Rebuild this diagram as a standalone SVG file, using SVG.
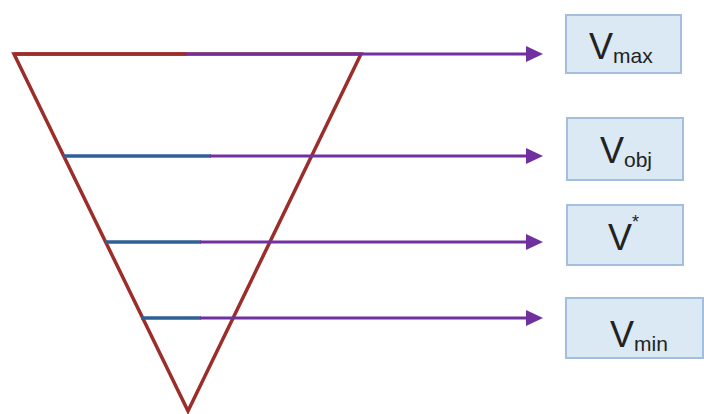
<svg xmlns="http://www.w3.org/2000/svg" width="704" height="414" viewBox="0 0 704 414">
<defs>
<marker id="ah" viewBox="0 0 17 16" refX="0" refY="8" markerWidth="17" markerHeight="16" markerUnits="userSpaceOnUse" orient="auto">
<path d="M0,0 L17,8 L0,16 Z" fill="#7030a0"/>
</marker>
<style>
.tri{fill:none;stroke:#9b2d2a;stroke-width:3.5;stroke-linejoin:miter}
.red{stroke:#9b2d2a;stroke-width:3.5;fill:none}
.blue{stroke:#2f6094;stroke-width:3.5;fill:none}
.arr{stroke:#7030a0;stroke-width:3;fill:none;marker-end:url(#ah)}
.box{fill:#dbe9f4;stroke:#a3bfdb;stroke-width:2}
.lbl{font-family:"Liberation Sans",Arial,sans-serif;font-size:36px;fill:#222222}
.sub{font-size:21px}
.sup{font-size:18px}
</style>
</defs>
<g id="funnel">
<polygon class="tri" points="14,54 361,54 188,411"/>
</g>
<g id="connectors">
<line class="red" x1="14" y1="54" x2="187" y2="54"/>
<line class="arr" x1="186" y1="54" x2="526" y2="54"/>
<line class="blue" x1="63" y1="156" x2="211" y2="156"/>
<line class="arr" x1="210" y1="156" x2="526" y2="156"/>
<line class="blue" x1="105" y1="242" x2="201" y2="242"/>
<line class="arr" x1="200" y1="242" x2="526" y2="242"/>
<line class="blue" x1="141" y1="318" x2="201" y2="318"/>
<line class="arr" x1="200" y1="318" x2="526" y2="318"/>
</g>
<g id="vmax">
<rect class="box" x="566" y="15" width="115" height="58"/>
<text class="lbl" x="589" y="59">V<tspan class="sub" dy="4">max</tspan></text>
</g>
<g id="vobj">
<rect class="box" x="567" y="118" width="116" height="62"/>
<text class="lbl" x="600" y="163">V<tspan class="sub" dy="4">obj</tspan></text>
</g>
<g id="vstar">
<rect class="box" x="567" y="205" width="116" height="60"/>
<text class="lbl" x="608" y="250">V<tspan class="sup" dy="-22">*</tspan></text>
</g>
<g id="vmin">
<rect class="box" x="566" y="298" width="137" height="60"/>
<text class="lbl" x="610" y="347">V<tspan class="sub" dy="4">min</tspan></text>
</g>
</svg>
